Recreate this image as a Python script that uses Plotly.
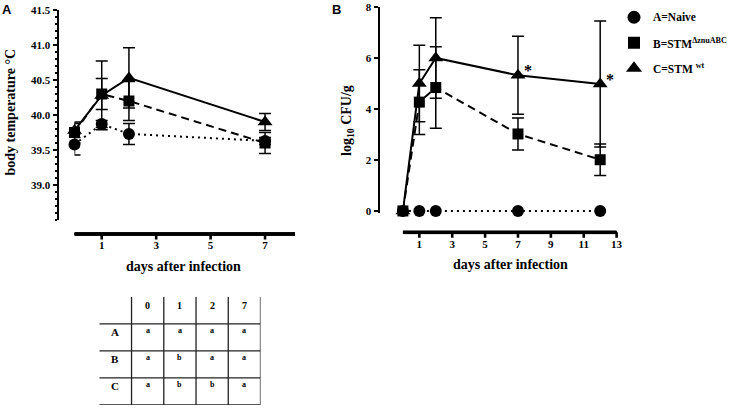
import plotly.graph_objects as go

W, H = 737, 408

# ---------------- data ----------------
# Panel A: body temperature
days_a = [0, 1, 2, 7]
temp_naive = [39.58, 39.87, 39.73, 39.63]
temp_naive_err = [0.15, 0.05, 0.15, 0.05]
temp_znu = [39.75, 40.30, 40.20, 39.60]
temp_znu_err = [0.15, 0.22, 0.28, 0.15]
temp_wt = [39.78, 40.28, 40.53, 39.90]
temp_wt_err = [0.10, 0.49, 0.43, 0.12]

# Panel B: log10 CFU/g
days_b = [0, 1, 2, 7, 12]
cfu_naive = [0, 0, 0, 0, 0]
cfu_znu = [0, 4.27, 4.84, 3.02, 2.01]
cfu_znu_err = [0, 1.27, 1.60, 0.63, 0.62]
cfu_wt = [0, 5.00, 6.00, 5.32, 4.98]
cfu_wt_err = [0, 1.50, 1.58, 1.53, 2.47]
signif_days = [7, 12]
signif_vals = [5.32, 4.98]

a_xticks = [1, 3, 5, 7]
a_yticks = [39.0, 39.5, 40.0, 40.5, 41.0, 41.5]
b_xticks = [1, 3, 5, 7, 9, 11, 13]
b_yticks = [0, 2, 4, 6, 8]

legend_labels = ["A=Naive", "B=STM<sup>ΔznuABC</sup>", "C=STM <sup>wt</sup>"]

table_cols = ["0", "1", "2", "7"]
table_rows = ["A", "B", "C"]
table_cells = [["a", "a", "a", "a"],
               ["a", "b", "a", "a"],
               ["a", "b", "b", "a"]]

# ---------------- helpers ----------------
def px(x):
    return x / W

def py(y):
    return 1 - y / H

SERIF = "Liberation Serif"
SANS = "Liberation Sans"
BLACK = "black"

A_XRANGE = [0, 8.1]
A_YRANGE = [38.5, 41.5]
B_XRANGE = [0, 13]
B_YRANGE = [-0.08, 8]

A_XLINE_Y = 234.0   # pixel row of panel A x-axis line (offset GraphPad style)
B_XLINE_Y = 232.3

A_X_DOM = [px(74.5), px(295)]
A_Y_DOM = [py(220), py(10)]
B_X_DOM = [px(402.9), px(402.9 + 13 * 16.44)]
B_Y_DOM = [py(213), py(7)]

styles = {
    "naive": dict(symbol="circle", size=12, dash="2px,4px"),
    "znu": dict(symbol="square", size=11, dash="8px,5px"),
    "wt": dict(symbol="triangle-up", size=13, dash="solid"),
}

fig = go.Figure()

def add_series(x, y, err, key, xa, ya):
    st = styles[key]
    fig.add_trace(go.Scatter(
        x=x, y=y, mode="lines+markers",
        line=dict(color=BLACK, width=2, dash=st["dash"]),
        marker=dict(symbol=st["symbol"], size=st["size"], color=BLACK),
        error_y=(dict(type="data", array=err, color=BLACK, thickness=1.5, width=6)
                 if err is not None else None),
        cliponaxis=False, showlegend=False, hoverinfo="skip",
        xaxis=xa, yaxis=ya,
    ))

# Panel A (data axes x7/y7)
add_series(days_a, temp_wt, temp_wt_err, "wt", "x7", "y7")
add_series(days_a, temp_znu, temp_znu_err, "znu", "x7", "y7")
add_series(days_a, temp_naive, temp_naive_err, "naive", "x7", "y7")

# Panel B (data axes x8/y8)
add_series(days_b, cfu_wt, cfu_wt_err, "wt", "x8", "y8")
add_series(days_b, cfu_znu, cfu_znu_err, "znu", "x8", "y8")
add_series(days_b, cfu_naive, None, "naive", "x8", "y8")

# invisible helper traces so the visible (offset) axes get their own subplots
for xa, ya in (("x", "y5"), ("x5", "y"), ("x2", "y6"), ("x6", "y2")):
    fig.add_trace(go.Scatter(x=[None], y=[None], mode="markers", marker=dict(opacity=0),
                             showlegend=False, hoverinfo="skip", xaxis=xa, yaxis=ya))

# offset x-axis lines: thin filled bars + line traces in their own subplots (x9/y9, x10/y10)
BAR_HALF = 0.11   # half thickness of the bar in the 12 px tall helper axis (~2.6 px total)
for xa, ya, xr in (("x9", "y9", A_XRANGE), ("x10", "y10", B_XRANGE)):
    fig.add_trace(go.Scatter(
        x=[xr[0], xr[1], xr[1], xr[0], xr[0]],
        y=[0.5 - BAR_HALF, 0.5 - BAR_HALF, 0.5 + BAR_HALF, 0.5 + BAR_HALF, 0.5 - BAR_HALF],
        mode="lines", fill="toself", fillcolor=BLACK,
        line=dict(color=BLACK, width=1), showlegend=False, hoverinfo="skip",
        xaxis=xa, yaxis=ya))
    fig.add_trace(go.Scatter(x=xr, y=[0.5, 0.5], mode="lines",
                             line=dict(color=BLACK, width=2.8), cliponaxis=False,
                             showlegend=False, hoverinfo="skip", xaxis=xa, yaxis=ya))

# Legend (custom, markers only)
for i, key in enumerate(["naive", "znu", "wt"]):
    st = styles[key]
    fig.add_trace(go.Scatter(
        x=[0], y=[i], mode="markers",
        marker=dict(symbol=st["symbol"], size=st["size"] + 1, color=BLACK),
        showlegend=False, hoverinfo="skip", xaxis="x4", yaxis="y4",
        cliponaxis=False,
    ))

annotations = []
for i, lab in enumerate(legend_labels):
    annotations.append(dict(
        x=0, y=i, xref="x4", yref="y4", text=lab, showarrow=False,
        xanchor="left", yanchor="middle", xshift=17,
        font=dict(family=SERIF, size=11.5, color=BLACK, weight="bold"),
    ))

# Significance asterisks
for d, v in zip(signif_days, signif_vals):
    annotations.append(dict(
        x=d, y=v, xref="x8", yref="y8", text="*", showarrow=False,
        xanchor="center", yanchor="middle", xshift=10, yshift=5,
        font=dict(family=SERIF, size=16, color=BLACK, weight="bold"),
    ))

# Axis titles and panel letters (explicitly centred)
title_font = dict(family=SERIF, size=14, color=BLACK, weight="bold")
letter_font = dict(family=SANS, size=13, color=BLACK, weight="bold")
for txt, x, y, ang, fnt in (
    ("body temperature °C", 9.5, 112, -90, title_font),
    ("log<sub>10</sub> CFU/g", 347, 121, -90, title_font),
    ("days after infection", 183, 266.5, 0, title_font),
    ("days after infection", 511, 264, 0, title_font),
    ("A", 7, 9.5, 0, letter_font),
    ("B", 336, 9.5, 0, letter_font),
):
    annotations.append(dict(x=px(x), y=py(y), xref="paper", yref="paper", text=txt,
                            textangle=ang, showarrow=False, xanchor="center",
                            yanchor="middle", font=fnt))

shapes = []

# Offset x-axis line + tick marks as one path in paper coordinates
def data_to_paper(v, dom, rng):
    return dom[0] + (v - rng[0]) / (rng[1] - rng[0]) * (dom[1] - dom[0])

for dom, xr, ticks, yline in ((A_X_DOM, A_XRANGE, a_xticks, A_XLINE_Y),
                              (B_X_DOM, B_XRANGE, b_xticks, B_XLINE_Y)):
    y0 = py(yline)
    y1 = py(yline + 5.5)
    path = f"M{dom[0]:.5f},{y0:.5f} L{dom[1]:.5f},{y0:.5f}"
    for t in ticks:
        xp = data_to_paper(t, dom, xr)
        path += f" M{xp:.5f},{y0:.5f} L{xp:.5f},{y1:.5f}"
    shapes.append(dict(type="path", xref="paper", yref="paper", path=path,
                       line=dict(color=BLACK, width=2.6), layer="above"))

# Table
n_cols = len(table_cols) + 1
n_rows = len(table_rows) + 1
for c in range(1, n_cols + 1):
    shapes.append(dict(type="line", xref="x3", yref="y3", x0=c, x1=c, y0=0, y1=n_rows,
                       line=dict(color="#222", width=1.3)))
for r in range(0, n_rows):
    shapes.append(dict(type="line", xref="x3", yref="y3", x0=0, x1=n_cols, y0=r, y1=r,
                       line=dict(color="#222", width=1.3)))

for j, col in enumerate(table_cols):
    annotations.append(dict(x=j + 1.5, y=n_rows - 0.31, xref="x3", yref="y3", text=col,
                            showarrow=False,
                            font=dict(family=SERIF, size=10, color=BLACK, weight="bold")))
for i, row in enumerate(table_rows):
    ytop = n_rows - 1 - i
    annotations.append(dict(x=0.5, y=ytop - 0.31, xref="x3", yref="y3", text=row,
                            showarrow=False,
                            font=dict(family=SERIF, size=11, color=BLACK, weight="bold")))
    for j, val in enumerate(table_cells[i]):
        annotations.append(dict(x=j + 1.5, y=ytop - 0.26, xref="x3", yref="y3", text=val,
                                showarrow=False,
                                font=dict(family=SERIF, size=8, color=BLACK, weight="bold")))

tick_font = dict(family=SERIF, size=11, color=BLACK, weight="bold")
axis_common = dict(showline=True, linecolor=BLACK, showgrid=False, zeroline=False,
                   ticks="outside", tickcolor=BLACK, tickfont=tick_font, fixedrange=True)
xlab_common = dict(showline=False, showgrid=False, zeroline=False, ticks="outside",
                   ticklen=1, tickcolor="rgba(0,0,0,0)", tickfont=tick_font,
                   fixedrange=True)
hidden = dict(visible=False, fixedrange=True, showgrid=False, zeroline=False)

fig.update_layout(
    width=W, height=H,
    margin=dict(l=0, r=0, t=0, b=0, pad=0, autoexpand=False),
    paper_bgcolor="white", plot_bgcolor="rgba(0,0,0,0)",
    showlegend=False,
    # ---- Panel A: x tick labels (anchored to helper y5 whose bottom is the x line)
    xaxis=dict(domain=A_X_DOM, range=A_XRANGE, anchor="y5",
               tickmode="array", tickvals=a_xticks, **xlab_common),
    yaxis5=dict(domain=[py(A_XLINE_Y), py(228)], range=[0, 1], anchor="x", **hidden),
    # ---- Panel A: visible y axis (anchored to helper x5, left at 59 px)
    yaxis=dict(domain=A_Y_DOM, range=A_YRANGE, anchor="x5",
               tickmode="array", tickvals=a_yticks,
               ticktext=[f"{v:.1f}" for v in a_yticks], ticklen=4, tickwidth=2,
               linewidth=2.5,
               minor=dict(tickmode="linear", tick0=38.5, dtick=0.1, ticks="outside",
                          ticklen=2, tickwidth=1.5, tickcolor=BLACK, showgrid=False),
               **axis_common),
    xaxis5=dict(domain=[px(59), px(70)], range=[0, 1], anchor="y", **hidden),
    # ---- Panel A: data axes
    xaxis7=dict(domain=A_X_DOM, range=A_XRANGE, anchor="y7", **hidden),
    yaxis7=dict(domain=A_Y_DOM, range=A_YRANGE, anchor="x7", **hidden),
    # ---- Panel A: x-line axes
    xaxis9=dict(domain=A_X_DOM, range=A_XRANGE, anchor="y9", **hidden),
    yaxis9=dict(domain=[py(A_XLINE_Y + 6), py(A_XLINE_Y - 6)], range=[0, 1], anchor="x9",
                **hidden),
    # ---- Panel B: x tick labels
    xaxis2=dict(domain=B_X_DOM, range=B_XRANGE, anchor="y6",
                tickmode="array", tickvals=b_xticks, **xlab_common),
    yaxis6=dict(domain=[py(B_XLINE_Y), py(228)], range=[0, 1], anchor="x2", **hidden),
    # ---- Panel B: visible y axis
    yaxis2=dict(domain=B_Y_DOM, range=B_YRANGE, anchor="x6",
                tickmode="array", tickvals=b_yticks, ticklen=4, tickwidth=2,
                linewidth=2.5, **axis_common),
    xaxis6=dict(domain=[px(380), px(390)], range=[0, 1], anchor="y2", **hidden),
    # ---- Panel B: data axes
    xaxis8=dict(domain=B_X_DOM, range=B_XRANGE, anchor="y8", **hidden),
    yaxis8=dict(domain=B_Y_DOM, range=B_YRANGE, anchor="x8", **hidden),
    # ---- Panel B: x-line axes
    xaxis10=dict(domain=B_X_DOM, range=B_XRANGE, anchor="y10", **hidden),
    yaxis10=dict(domain=[py(B_XLINE_Y + 6), py(B_XLINE_Y - 6)], range=[0, 1],
                 anchor="x10", **hidden),
    # ---- Table and legend helper axes
    xaxis3=dict(domain=[px(99.3), px(260.5)], range=[0, n_cols], anchor="y3", **hidden),
    yaxis3=dict(domain=[py(405), py(296.7)], range=[0, n_rows], anchor="x3", **hidden),
    xaxis4=dict(domain=[px(614), 1], range=[-1, 5.15], anchor="y4", **hidden),
    yaxis4=dict(domain=[py(81), py(4.5)], range=[2.5, -0.5], anchor="x4", **hidden),
    shapes=shapes,
    annotations=annotations,
)

fig.write_html(
    "out.html",
    config={"displayModeBar": False, "staticPlot": True},
    post_script="document.body.style.margin='0';document.body.style.overflow='hidden';",
)
